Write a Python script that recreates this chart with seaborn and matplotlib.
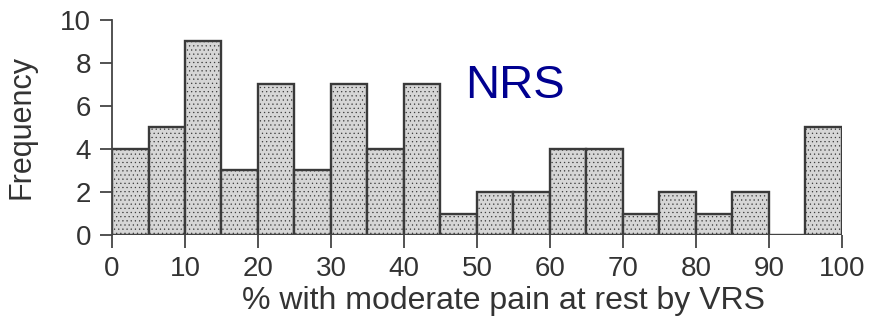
import matplotlib
matplotlib.use("Agg")
import matplotlib.pyplot as plt
import seaborn as sns
import numpy as np
import pandas as pd

bin_edges = [0, 5, 10, 15, 20, 25, 30, 35, 40, 45, 50, 55, 60, 65, 70, 75, 80, 85, 90, 95, 100]
bin_centers = [2.5, 7.5, 12.5, 17.5, 22.5, 27.5, 32.5, 37.5, 42.5, 47.5, 52.5, 57.5, 62.5, 67.5, 72.5, 77.5, 82.5, 87.5, 92.5, 97.5]
counts = [4, 5, 9, 3, 7, 3, 7, 4, 7, 1, 2, 2, 4, 4, 1, 2, 1, 2, 0, 5]
x_ticks = [0, 10, 20, 30, 40, 50, 60, 70, 80, 90, 100]
y_ticks = [0, 2, 4, 6, 8, 10]

sns.set_style("ticks")
plt.rcParams['font.family'] = ['Liberation Sans', 'DejaVu Sans']
plt.rcParams['hatch.color'] = '#c2c2c2'
plt.rcParams['hatch.linewidth'] = 0.4

df = pd.DataFrame({"x": bin_centers, "w": counts})

fig = plt.figure(figsize=(8.71, 3.2), dpi=100)
ax = fig.add_axes([0.1286, 0.2656, 0.838, 0.672])
sns.histplot(data=df, x="x", weights="w", bins=bin_edges, ax=ax,
             color="#d6d6d6", edgecolor="#3a3a3a", linewidth=1.7, alpha=1,
             hatch="....")
ax.set_xlim(0, 100)
ax.set_ylim(0, 10)
ax.set_xticks(x_ticks)
ax.set_yticks(y_ticks)
ax.tick_params(axis="both", direction="out", length=9, width=1.3, colors="#444444",
               labelsize=20, labelcolor="#333333", pad=6)
for s in ["top", "right"]:
    ax.spines[s].set_visible(False)
for s in ["left", "bottom"]:
    ax.spines[s].set_color("#444444")
    ax.spines[s].set_linewidth(1.3)
ax.spines["bottom"].set_visible(False)
ax.axhline(0, color="#444444", lw=1.3, zorder=5)
ax.set_xlabel("% with moderate pain at rest by VRS", fontsize=23, color="#333333")
ax.set_ylabel("Frequency", fontsize=22, color="#333333")
ax.xaxis.set_label_coords(0.536, -0.235)
ax.yaxis.set_label_coords(-0.104, 0.5)
ax.text(55.2, 6.95, "NRS", fontsize=34, color="#000090", ha="center", va="center")
fig.savefig("out.png", dpi=100)
